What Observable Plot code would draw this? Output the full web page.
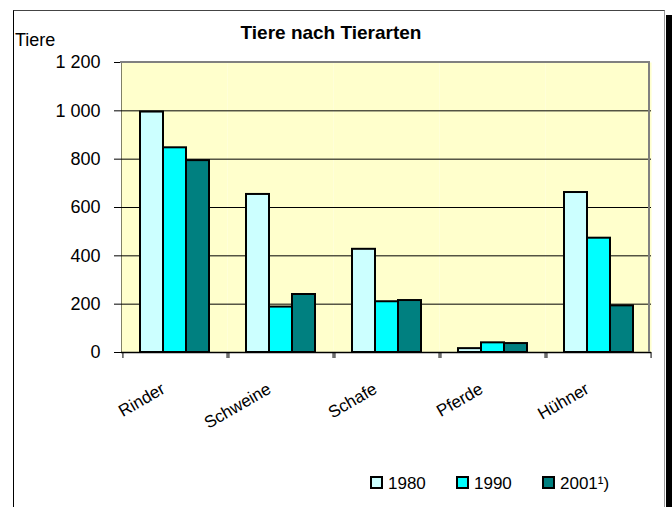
<!DOCTYPE html>
<html>
<head>
<meta charset="utf-8">
<script src="https://cdn.jsdelivr.net/npm/d3@7"></script>
<script src="https://cdn.jsdelivr.net/npm/@observablehq/plot@0.6"></script>
<style>
  html, body { margin: 0; padding: 0; background: #fff; }
  #wrap { position: relative; width: 672px; height: 507px; overflow: hidden; font-family: "Liberation Sans", Arial, sans-serif; color: #000; }
  #wrap svg { position: absolute; left: 0; top: 0; }
  .abs { position: absolute; line-height: 1; white-space: nowrap; }
  #outer { position: absolute; left: 13px; top: 10px; width: 650px; height: 520px; border-left: 1px solid #000; border-top: 1px solid #444; border-right: 1px solid #999; }
  #shadow { position: absolute; left: 666px; top: 15px; width: 6px; height: 500px; background: #000; }
  #plotborder { position: absolute; left: 120px; top: 61px; width: 530px; height: 291px; border-top: 2px solid #808080; border-right: 2px solid #808080; box-sizing: border-box; pointer-events: none; }
  .sw { position: absolute; width: 13px; height: 13px; border: 2px solid #000; box-sizing: border-box; top: 476px; }
  .lt { font-size: 17px; top: 474.5px; }
</style>
</head>
<body>
<div id="wrap">
  <div id="outer"></div>
  <div id="shadow"></div>
</div>
<script>
const categories = ["Rinder", "Schweine", "Schafe", "Pferde", "Hühner"];
const years = ["1980", "1990", "2001¹)"];
const v1980 = [995, 654, 427, 16, 662];
const v1990 = [847, 188, 210, 40, 473];
const v2001 = [794, 240, 215, 37, 193];
const yTicks = [0, 200, 400, 600, 800, 1000, 1200];
const gridTicks = [200, 400, 600, 800, 1000];
const colors = ["#CCFFFF", "#00FFFF", "#008080"];
const title = "Tiere nach Tierarten";
const yTitle = "Tiere";

const series = [v1980, v1990, v2001];
const data = categories.flatMap((c, i) => years.map((y, j) => ({cat: c, year: y, value: series[j][i]})));

const W = 672, H = 507, ML = 120, MR = 21, MT = 62, MB = 155;
const facetW = (W - ML - MR) / categories.length;
const padOuter = 0.71;
const step = facetW / (years.length + 2 * padOuter);
const edgeOff = padOuter * step + step / 2;

const chart = Plot.plot({
  width: W, height: H,
  marginLeft: ML, marginRight: MR, marginTop: MT, marginBottom: MB,
  style: {background: "transparent", fontFamily: "'Liberation Sans', Arial, sans-serif", fontSize: "18px", color: "#000", overflow: "visible"},
  facet: {data, x: "cat"},
  fx: {domain: categories, padding: 0, label: null, tickSize: 0, tickRotate: -30, tickPadding: 35},
  x: {domain: years, paddingInner: 0, paddingOuter: padOuter, axis: null},
  y: {domain: [0, 1200], ticks: yTicks, tickFormat: d => d3.format(",")(d).replace(/,/g, " "), label: null, tickSize: 7, tickPadding: 14, line: true},
  color: {domain: years, range: colors},
  marks: [
    Plot.frame({fill: "#FFFFCC", stroke: "none"}),
    Plot.ruleY(gridTicks, {stroke: "#000", strokeWidth: 1}),
    Plot.barY(data, {x: "year", y: "value", fill: "year", stroke: "#000", strokeWidth: 2}),
    Plot.ruleY([0], {stroke: "#000", strokeWidth: 1.5}),
    Plot.ruleX([years[0]], {dx: -edgeOff, insetTop: H - MT - MB, insetBottom: -6, stroke: "#000"}),
    Plot.ruleX([years[years.length - 1]], {dx: edgeOff, insetTop: H - MT - MB, insetBottom: -6, stroke: "#000"})
  ]
});

const wrap = document.getElementById("wrap");
wrap.appendChild(chart);
chart.querySelectorAll('[aria-label^="fx-axis"] text').forEach(t => {
  t.style.fontSize = "17px";
  const tr = t.getAttribute("transform") || "";
  t.setAttribute("transform", "translate(-11,0) " + tr);
});

const pb = document.createElement("div"); pb.id = "plotborder"; wrap.appendChild(pb);

function addText(txt, css) {
  const d = document.createElement("div");
  d.className = "abs";
  d.textContent = txt;
  Object.assign(d.style, css);
  wrap.appendChild(d);
  return d;
}
addText(title, {left: "131px", width: "400px", textAlign: "center", top: "23px", fontSize: "19px", fontWeight: "bold"});
addText(yTitle, {left: "15px", top: "31px", fontSize: "18px"});

const legX = [370, 456, 542];
years.forEach((y, i) => {
  const s = document.createElement("div");
  s.className = "sw";
  s.style.left = legX[i] + "px";
  s.style.background = colors[i];
  wrap.appendChild(s);
  const t = addText(y, {left: (legX[i] + 18) + "px"});
  t.classList.add("lt");
});
</script>
</body>
</html>
